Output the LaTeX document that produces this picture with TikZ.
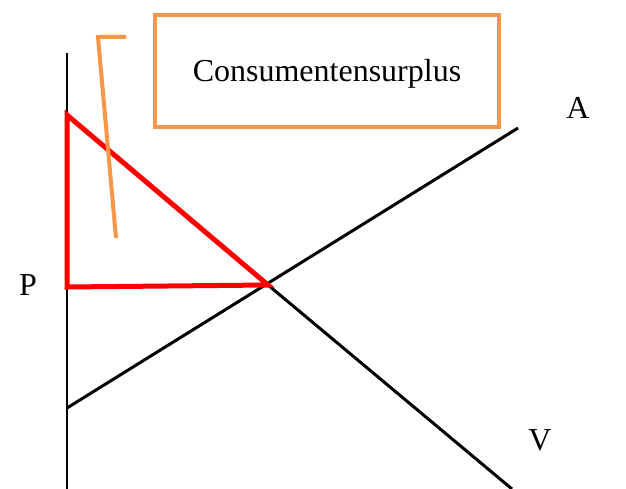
\documentclass[tikz,border=0pt]{standalone}
\usepackage{fontspec}
\setmainfont{Liberation Serif}
\usepackage{xcolor}
\usetikzlibrary{positioning}
\definecolor{cSurp}{RGB}{255,0,0}
\definecolor{cCall}{RGB}{247,150,70}

\begin{document}
\begin{tikzpicture}[x=1pt,y=-1pt,
   axisline/.style={draw,black,line width=2pt},
   curve/.style={draw,black,line width=3pt},
   surplus/.style={draw,cSurp,line width=5pt,line join=miter},
   callout/.style={draw,cCall,line width=4pt},
   lbl/.style={text=black,font=\fontsize{32}{38}\selectfont,inner sep=0pt}]
 \useasboundingbox (0,0) rectangle (626,489);
 % axis
 \coordinate (yTop) at (67,53);
 \coordinate (yBot) at (67,489);
 \draw[axisline] (yTop) -- (yBot);
 % supply (A) and demand (V)
 \coordinate (sLow) at (67,408);
 \coordinate (sHigh) at (518,128);
 \coordinate (eq) at (268,285);
 \coordinate (dTop) at (67,115);
 \coordinate (dEnd) at (512,489);
 \coordinate (pAxis) at (67,287);
 \draw[curve] (sLow) -- (sHigh);
 \draw[curve] (eq) -- (dEnd);
 % consumer surplus triangle
 \draw[surplus] (dTop) -- (eq) -- (pAxis) -- cycle;
 % callout
 \node[callout,minimum width=344pt,minimum height=112pt] (box) at (327,71) {};
 \node[lbl] (boxText) at (327,74) {Consumentensurplus};
 \coordinate (cA) at (126,37);
 \coordinate (cB) at (98,37);
 \coordinate (cC) at (116,238);
 \draw[callout] (cA) -- (cB) -- (cC);
 % labels
 \node[lbl] (lblP) at (28,285) {P};
 \node[lbl] (lblA) at (578,108) {A};
 \node[lbl] (lblV) at (540,440) {V};
\end{tikzpicture}
\end{document}
